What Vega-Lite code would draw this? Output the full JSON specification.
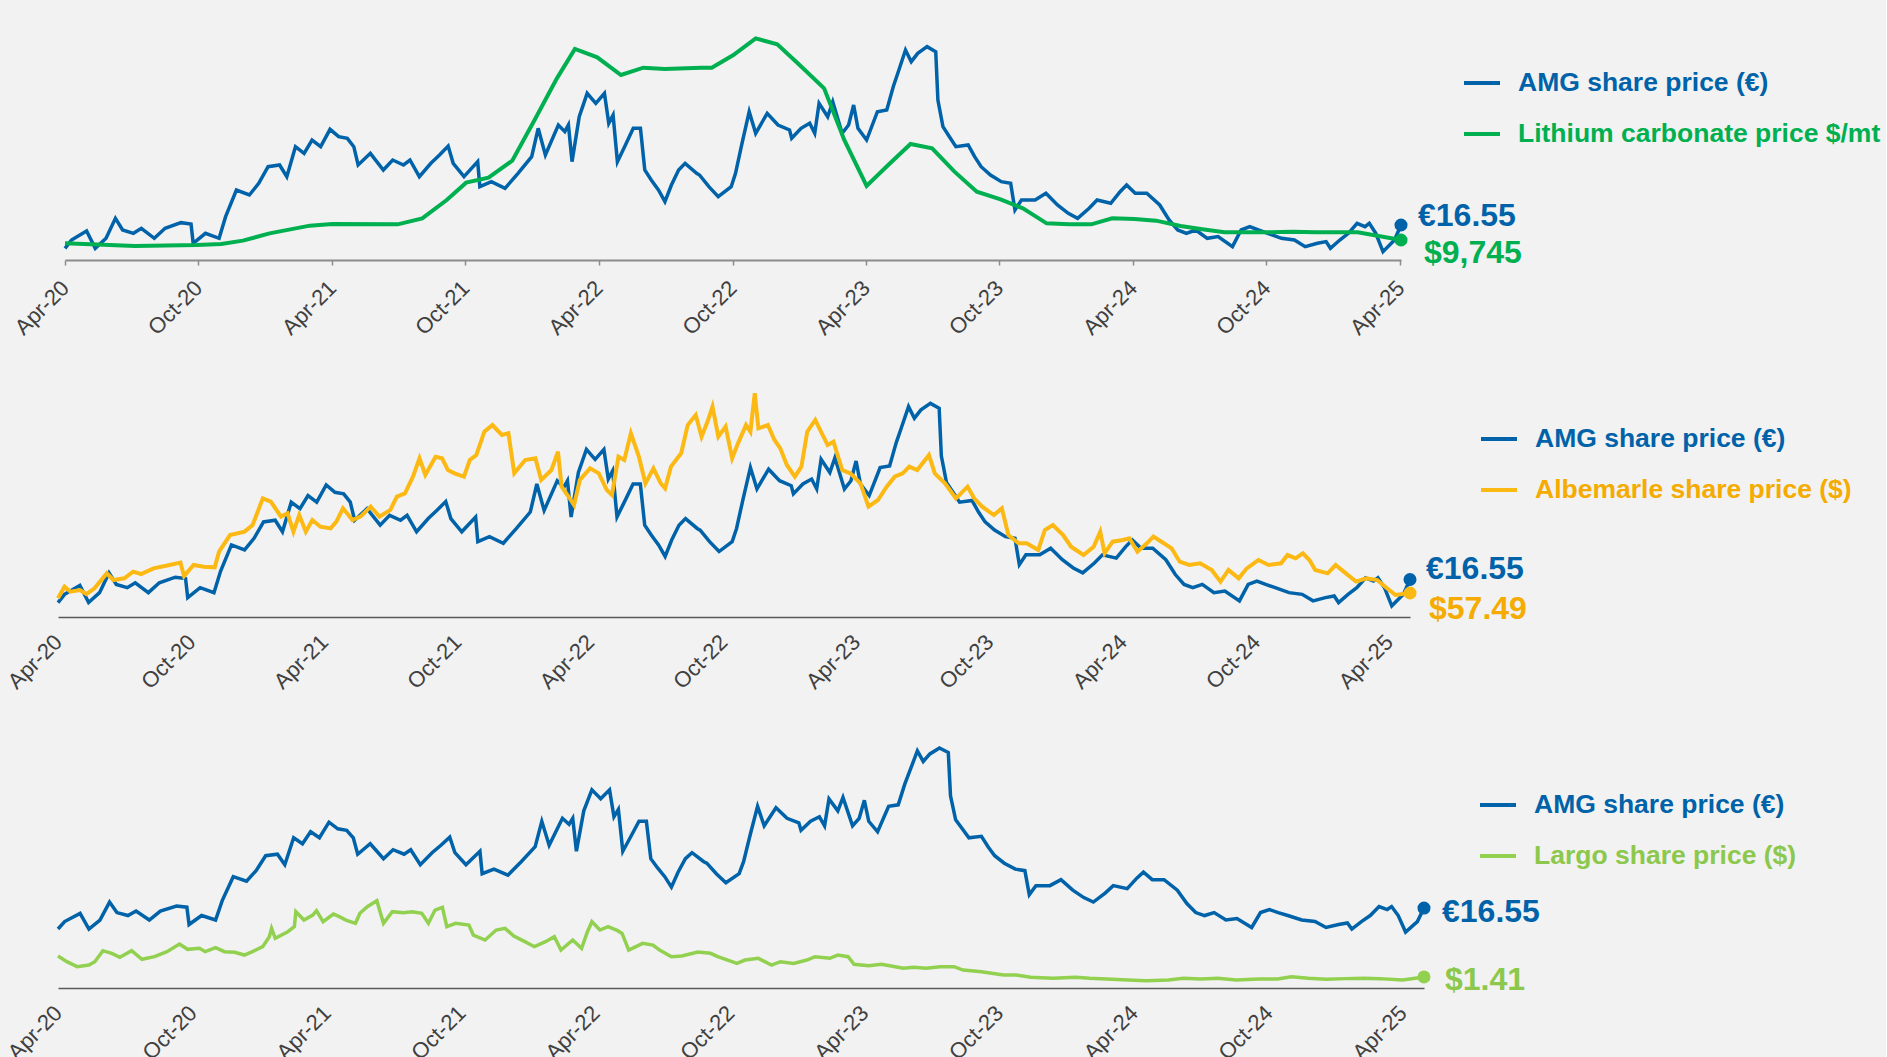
{
  "$schema": "https://vega.github.io/schema/vega-lite/v6.json",
  "background": "#f2f2f2",
  "padding": {"left": 3, "top": 30, "right": 5, "bottom": 0},
  "bounds": "flush",
  "spacing": 124,
  "config": {
    "view": {"stroke": null},
    "font": "Liberation Sans",
    "axis": {"labelFont": "Liberation Sans"},
    "legend": {"labelFont": "Liberation Sans"}
  },
  "resolve": {"scale": {"x": "independent", "color": "independent"}},
  "datasets": {
    "amg": [
      {"date":"2020-04-01","v":11.98},{"date":"2020-04-10","v":13.61},{"date":"2020-05-01","v":15.38},{"date":"2020-05-13","v":11.98},{"date":"2020-05-28","v":13.94},{"date":"2020-06-10","v":17.86},{"date":"2020-06-20","v":15.57},{"date":"2020-07-05","v":14.92},{"date":"2020-07-16","v":15.90},{"date":"2020-08-03","v":13.94},{"date":"2020-08-18","v":15.90},{"date":"2020-09-09","v":17.01},{"date":"2020-09-23","v":16.75},{"date":"2020-09-26","v":12.96},{"date":"2020-10-13","v":14.92},{"date":"2020-11-01","v":13.94},{"date":"2020-11-10","v":18.18},{"date":"2020-11-25","v":23.41},{"date":"2020-12-13","v":22.43},{"date":"2020-12-26","v":24.72},{"date":"2021-01-08","v":27.98},{"date":"2021-01-24","v":28.31},{"date":"2021-02-03","v":26.02},{"date":"2021-02-15","v":31.90},{"date":"2021-02-27","v":30.60},{"date":"2021-03-10","v":33.21},{"date":"2021-03-22","v":31.90},{"date":"2021-04-04","v":35.30},{"date":"2021-04-16","v":33.86},{"date":"2021-04-28","v":33.54},{"date":"2021-05-07","v":31.90},{"date":"2021-05-13","v":28.31},{"date":"2021-05-30","v":30.60},{"date":"2021-06-17","v":27.33},{"date":"2021-06-30","v":29.29},{"date":"2021-07-15","v":28.31},{"date":"2021-07-24","v":29.29},{"date":"2021-08-06","v":26.02},{"date":"2021-08-22","v":28.64},{"date":"2021-09-03","v":30.27},{"date":"2021-09-15","v":32.03},{"date":"2021-09-22","v":28.64},{"date":"2021-10-07","v":26.02},{"date":"2021-10-26","v":28.96},{"date":"2021-10-29","v":24.06},{"date":"2021-11-14","v":25.05},{"date":"2021-12-03","v":23.74},{"date":"2021-12-21","v":26.68},{"date":"2022-01-09","v":29.94},{"date":"2022-01-18","v":35.50},{"date":"2022-01-28","v":30.27},{"date":"2022-02-15","v":36.15},{"date":"2022-02-24","v":34.84},{"date":"2022-03-01","v":36.15},{"date":"2022-03-06","v":28.96},{"date":"2022-03-16","v":37.78},{"date":"2022-03-27","v":42.36},{"date":"2022-04-08","v":40.40},{"date":"2022-04-20","v":42.36},{"date":"2022-04-26","v":36.48},{"date":"2022-05-02","v":38.11},{"date":"2022-05-08","v":28.96},{"date":"2022-05-18","v":31.90},{"date":"2022-05-30","v":35.50},{"date":"2022-06-09","v":35.50},{"date":"2022-06-15","v":27.33},{"date":"2022-06-24","v":25.37},{"date":"2022-07-04","v":23.41},{"date":"2022-07-13","v":21.13},{"date":"2022-07-22","v":24.39},{"date":"2022-08-01","v":27.33},{"date":"2022-08-10","v":28.64},{"date":"2022-08-26","v":26.68},{"date":"2022-08-30","v":26.35},{"date":"2022-09-12","v":24.06},{"date":"2022-09-25","v":22.10},{"date":"2022-10-13","v":24.06},{"date":"2022-10-19","v":26.68},{"date":"2022-10-28","v":32.56},{"date":"2022-11-07","v":38.76},{"date":"2022-11-16","v":34.52},{"date":"2022-12-02","v":38.44},{"date":"2022-12-17","v":36.15},{"date":"2023-01-02","v":35.17},{"date":"2023-01-05","v":33.54},{"date":"2023-01-18","v":35.50},{"date":"2023-01-30","v":36.48},{"date":"2023-02-06","v":34.52},{"date":"2023-02-12","v":40.40},{"date":"2023-02-24","v":37.78},{"date":"2023-03-03","v":40.72},{"date":"2023-03-16","v":34.52},{"date":"2023-03-25","v":36.15},{"date":"2023-04-01","v":40.07},{"date":"2023-04-07","v":35.50},{"date":"2023-04-19","v":33.21},{"date":"2023-05-04","v":38.76},{"date":"2023-05-17","v":39.09},{"date":"2023-05-26","v":43.66},{"date":"2023-06-02","v":46.60},{"date":"2023-06-12","v":50.85},{"date":"2023-06-20","v":48.56},{"date":"2023-06-29","v":50.20},{"date":"2023-07-12","v":51.50},{"date":"2023-07-24","v":50.52},{"date":"2023-07-27","v":41.05},{"date":"2023-08-03","v":35.82},{"date":"2023-08-12","v":33.86},{"date":"2023-08-21","v":31.90},{"date":"2023-09-07","v":32.23},{"date":"2023-09-16","v":29.94},{"date":"2023-09-25","v":27.98},{"date":"2023-10-08","v":26.35},{"date":"2023-10-23","v":25.05},{"date":"2023-11-05","v":24.72},{"date":"2023-11-11","v":19.49},{"date":"2023-11-20","v":21.45},{"date":"2023-12-09","v":21.45},{"date":"2023-12-24","v":22.76},{"date":"2024-01-09","v":20.47},{"date":"2024-01-24","v":18.84},{"date":"2024-02-06","v":17.86},{"date":"2024-02-22","v":19.82},{"date":"2024-03-04","v":21.45},{"date":"2024-03-23","v":20.80},{"date":"2024-04-05","v":23.08},{"date":"2024-04-14","v":24.39},{"date":"2024-04-26","v":22.76},{"date":"2024-05-12","v":22.76},{"date":"2024-05-30","v":20.47},{"date":"2024-06-12","v":17.53},{"date":"2024-06-24","v":15.57},{"date":"2024-07-06","v":14.92},{"date":"2024-07-19","v":15.57},{"date":"2024-08-04","v":13.94},{"date":"2024-08-19","v":14.27},{"date":"2024-09-08","v":12.31},{"date":"2024-09-20","v":15.57},{"date":"2024-10-02","v":16.23},{"date":"2024-10-14","v":15.57},{"date":"2024-10-27","v":14.92},{"date":"2024-11-15","v":13.94},{"date":"2024-12-03","v":13.61},{"date":"2024-12-18","v":12.31},{"date":"2025-01-04","v":12.96},{"date":"2025-01-16","v":13.29},{"date":"2025-01-22","v":11.98},{"date":"2025-02-04","v":13.61},{"date":"2025-02-16","v":14.92},{"date":"2025-02-28","v":16.88},{"date":"2025-03-11","v":16.23},{"date":"2025-03-17","v":16.88},{"date":"2025-03-26","v":14.92},{"date":"2025-04-05","v":11.33},{"date":"2025-04-21","v":13.61},{"date":"2025-04-30","v":16.55}
    ],
    "li": [
      {"date":"2020-04-01","v":8554},{"date":"2020-07-07","v":7599},{"date":"2020-10-01","v":7957},{"date":"2020-11-04","v":8315},{"date":"2020-12-04","v":9508},{"date":"2021-01-10","v":12134},{"date":"2021-03-07","v":14879},{"date":"2021-04-07","v":15476},{"date":"2021-07-07","v":15356},{"date":"2021-08-10","v":17503},{"date":"2021-09-13","v":24067},{"date":"2021-10-10","v":30272},{"date":"2021-11-10","v":32062},{"date":"2021-12-13","v":38148},{"date":"2022-01-13","v":52706},{"date":"2022-02-13","v":67623},{"date":"2022-03-10","v":78123},{"date":"2022-04-10","v":75140},{"date":"2022-05-13","v":68815},{"date":"2022-06-13","v":71440},{"date":"2022-07-13","v":70963},{"date":"2022-09-01","v":71440},{"date":"2022-09-16","v":71440},{"date":"2022-10-16","v":75975},{"date":"2022-11-16","v":81940},{"date":"2022-12-16","v":79794},{"date":"2023-01-16","v":72396},{"date":"2023-02-19","v":64042},{"date":"2023-03-19","v":45546},{"date":"2023-04-19","v":29078},{"date":"2023-05-19","v":36596},{"date":"2023-06-19","v":44113},{"date":"2023-07-19","v":42562},{"date":"2023-08-19","v":34209},{"date":"2023-09-19","v":27049},{"date":"2023-10-22","v":24304},{"date":"2023-11-22","v":21083},{"date":"2023-12-25","v":15714},{"date":"2024-01-25","v":15356},{"date":"2024-02-25","v":15356},{"date":"2024-03-25","v":17503},{"date":"2024-04-25","v":17264},{"date":"2024-05-25","v":16668},{"date":"2024-06-28","v":14758},{"date":"2024-07-28","v":13565},{"date":"2024-08-28","v":12491},{"date":"2024-10-28","v":12491},{"date":"2024-12-01","v":12730},{"date":"2025-01-01","v":12491},{"date":"2025-03-01","v":12491},{"date":"2025-04-30","v":9745}
    ],
    "alb": [
      {"date":"2020-04-01","v":50.2},{"date":"2020-04-10","v":66.1},{"date":"2020-04-18","v":59.3},{"date":"2020-05-01","v":61.6},{"date":"2020-05-10","v":56.1},{"date":"2020-05-21","v":63.9},{"date":"2020-06-07","v":84.3},{"date":"2020-06-16","v":75.2},{"date":"2020-07-01","v":77.5},{"date":"2020-07-13","v":86.6},{"date":"2020-07-24","v":83.4},{"date":"2020-08-10","v":91.1},{"date":"2020-09-01","v":95.7},{"date":"2020-09-16","v":98.9},{"date":"2020-09-21","v":80.7},{"date":"2020-10-04","v":95.7},{"date":"2020-10-18","v":93.4},{"date":"2020-11-02","v":92.5},{"date":"2020-11-08","v":113.9},{"date":"2020-11-23","v":136.6},{"date":"2020-12-13","v":141.2},{"date":"2020-12-24","v":150.3},{"date":"2021-01-07","v":186.7},{"date":"2021-01-18","v":182.1},{"date":"2021-02-01","v":161.7},{"date":"2021-02-10","v":166.2},{"date":"2021-02-18","v":141.2},{"date":"2021-02-26","v":163.9},{"date":"2021-03-07","v":141.2},{"date":"2021-03-16","v":157.1},{"date":"2021-03-27","v":148.0},{"date":"2021-04-10","v":145.7},{"date":"2021-04-18","v":154.8},{"date":"2021-04-27","v":173.0},{"date":"2021-05-10","v":157.1},{"date":"2021-05-21","v":161.7},{"date":"2021-06-04","v":175.3},{"date":"2021-06-16","v":161.7},{"date":"2021-07-01","v":170.8},{"date":"2021-07-10","v":189.0},{"date":"2021-07-21","v":193.5},{"date":"2021-08-01","v":216.2},{"date":"2021-08-10","v":241.3},{"date":"2021-08-18","v":218.5},{"date":"2021-09-01","v":243.5},{"date":"2021-09-10","v":241.3},{"date":"2021-09-18","v":225.3},{"date":"2021-09-27","v":220.8},{"date":"2021-10-10","v":216.2},{"date":"2021-10-18","v":239.0},{"date":"2021-10-27","v":245.8},{"date":"2021-11-07","v":277.6},{"date":"2021-11-18","v":286.7},{"date":"2021-12-01","v":273.1},{"date":"2021-12-10","v":275.4},{"date":"2021-12-18","v":220.8},{"date":"2022-01-02","v":239.0},{"date":"2022-01-16","v":241.3},{"date":"2022-01-24","v":211.7},{"date":"2022-02-07","v":225.3},{"date":"2022-02-16","v":250.4},{"date":"2022-02-21","v":202.6},{"date":"2022-03-01","v":191.2},{"date":"2022-03-10","v":177.6},{"date":"2022-03-18","v":211.7},{"date":"2022-04-01","v":227.6},{"date":"2022-04-13","v":220.8},{"date":"2022-04-24","v":198.0},{"date":"2022-05-01","v":191.2},{"date":"2022-05-10","v":243.5},{"date":"2022-05-18","v":239.0},{"date":"2022-05-27","v":275.4},{"date":"2022-06-07","v":243.5},{"date":"2022-06-16","v":207.1},{"date":"2022-06-27","v":227.6},{"date":"2022-07-07","v":207.1},{"date":"2022-07-13","v":200.3},{"date":"2022-07-21","v":229.9},{"date":"2022-08-04","v":248.1},{"date":"2022-08-13","v":286.7},{"date":"2022-08-24","v":300.4},{"date":"2022-09-01","v":270.8},{"date":"2022-09-10","v":293.6},{"date":"2022-09-16","v":311.8},{"date":"2022-09-24","v":270.8},{"date":"2022-10-04","v":284.5},{"date":"2022-10-13","v":241.3},{"date":"2022-10-21","v":261.7},{"date":"2022-11-01","v":286.7},{"date":"2022-11-07","v":277.6},{"date":"2022-11-13","v":330.0},{"date":"2022-11-18","v":282.2},{"date":"2022-12-01","v":286.7},{"date":"2022-12-10","v":266.3},{"date":"2022-12-18","v":254.9},{"date":"2022-12-27","v":232.2},{"date":"2023-01-07","v":216.2},{"date":"2023-01-16","v":229.9},{"date":"2023-01-24","v":277.6},{"date":"2023-02-04","v":293.6},{"date":"2023-02-13","v":275.4},{"date":"2023-02-21","v":259.4},{"date":"2023-03-01","v":264.0},{"date":"2023-03-13","v":225.3},{"date":"2023-03-24","v":220.8},{"date":"2023-04-07","v":207.1},{"date":"2023-04-18","v":175.3},{"date":"2023-05-01","v":184.4},{"date":"2023-05-13","v":202.6},{"date":"2023-05-24","v":216.2},{"date":"2023-06-04","v":220.8},{"date":"2023-06-13","v":229.9},{"date":"2023-06-24","v":225.3},{"date":"2023-07-10","v":245.8},{"date":"2023-07-18","v":220.8},{"date":"2023-08-01","v":207.1},{"date":"2023-08-16","v":186.7},{"date":"2023-09-01","v":202.6},{"date":"2023-09-10","v":186.7},{"date":"2023-09-21","v":175.3},{"date":"2023-10-07","v":163.9},{"date":"2023-10-18","v":173.0},{"date":"2023-10-27","v":136.6},{"date":"2023-11-10","v":125.3},{"date":"2023-11-21","v":125.3},{"date":"2023-12-07","v":116.2},{"date":"2023-12-16","v":143.5},{"date":"2023-12-27","v":150.3},{"date":"2024-01-10","v":136.6},{"date":"2024-01-21","v":120.7},{"date":"2024-02-07","v":109.3},{"date":"2024-02-21","v":120.7},{"date":"2024-03-01","v":141.2},{"date":"2024-03-07","v":111.6},{"date":"2024-03-18","v":127.5},{"date":"2024-04-01","v":129.8},{"date":"2024-04-10","v":132.1},{"date":"2024-04-21","v":113.9},{"date":"2024-05-04","v":125.3},{"date":"2024-05-13","v":134.4},{"date":"2024-05-24","v":127.5},{"date":"2024-06-07","v":118.4},{"date":"2024-06-18","v":100.2},{"date":"2024-07-01","v":95.7},{"date":"2024-07-16","v":98.0},{"date":"2024-08-01","v":88.9},{"date":"2024-08-13","v":73.0},{"date":"2024-08-24","v":88.9},{"date":"2024-09-07","v":77.5},{"date":"2024-09-18","v":91.1},{"date":"2024-10-04","v":102.5},{"date":"2024-10-18","v":95.7},{"date":"2024-11-04","v":98.0},{"date":"2024-11-13","v":109.3},{"date":"2024-11-24","v":104.8},{"date":"2024-12-04","v":111.6},{"date":"2024-12-13","v":102.5},{"date":"2024-12-21","v":88.9},{"date":"2025-01-07","v":84.3},{"date":"2025-01-18","v":95.7},{"date":"2025-02-01","v":84.3},{"date":"2025-02-15","v":73.0},{"date":"2025-03-01","v":77.5},{"date":"2025-03-16","v":75.2},{"date":"2025-03-27","v":66.1},{"date":"2025-04-10","v":54.8},{"date":"2025-04-30","v":57.49}
    ],
    "largo": [
      {"date":"2020-04-01","v":4.10},{"date":"2020-04-13","v":3.37},{"date":"2020-04-27","v":2.73},{"date":"2020-05-13","v":2.94},{"date":"2020-05-21","v":3.37},{"date":"2020-06-01","v":4.78},{"date":"2020-06-13","v":4.44},{"date":"2020-06-24","v":3.93},{"date":"2020-07-10","v":4.78},{"date":"2020-07-24","v":3.67},{"date":"2020-08-10","v":4.01},{"date":"2020-08-27","v":4.65},{"date":"2020-09-13","v":5.63},{"date":"2020-09-24","v":4.95},{"date":"2020-10-10","v":5.08},{"date":"2020-10-18","v":4.65},{"date":"2020-11-01","v":5.16},{"date":"2020-11-13","v":4.65},{"date":"2020-11-27","v":4.57},{"date":"2020-12-10","v":4.22},{"date":"2020-12-21","v":4.65},{"date":"2021-01-04","v":5.29},{"date":"2021-01-13","v":6.57},{"date":"2021-01-16","v":7.64},{"date":"2021-01-21","v":6.36},{"date":"2021-02-07","v":7.21},{"date":"2021-02-16","v":7.85},{"date":"2021-02-18","v":9.77},{"date":"2021-03-01","v":8.70},{"date":"2021-03-13","v":9.34},{"date":"2021-03-18","v":9.90},{"date":"2021-03-27","v":8.49},{"date":"2021-04-10","v":9.47},{"date":"2021-04-18","v":9.13},{"date":"2021-04-27","v":8.70},{"date":"2021-05-10","v":8.28},{"date":"2021-05-16","v":9.56},{"date":"2021-05-26","v":10.41},{"date":"2021-06-08","v":11.18},{"date":"2021-06-17","v":8.28},{"date":"2021-06-29","v":9.77},{"date":"2021-07-14","v":9.64},{"date":"2021-07-26","v":9.77},{"date":"2021-08-08","v":9.56},{"date":"2021-08-17","v":8.28},{"date":"2021-08-26","v":9.98},{"date":"2021-09-05","v":10.33},{"date":"2021-09-11","v":7.85},{"date":"2021-09-23","v":8.28},{"date":"2021-10-11","v":8.06},{"date":"2021-10-17","v":6.78},{"date":"2021-11-02","v":6.14},{"date":"2021-11-17","v":7.42},{"date":"2021-11-29","v":7.64},{"date":"2021-12-11","v":6.66},{"date":"2021-12-26","v":5.93},{"date":"2022-01-08","v":5.29},{"date":"2022-01-23","v":5.93},{"date":"2022-02-04","v":6.57},{"date":"2022-02-13","v":4.86},{"date":"2022-03-01","v":6.14},{"date":"2022-03-13","v":5.08},{"date":"2022-03-21","v":7.21},{"date":"2022-03-27","v":8.49},{"date":"2022-04-07","v":7.42},{"date":"2022-04-18","v":7.85},{"date":"2022-05-01","v":7.34},{"date":"2022-05-07","v":6.99},{"date":"2022-05-16","v":4.86},{"date":"2022-06-04","v":5.72},{"date":"2022-06-18","v":5.50},{"date":"2022-06-27","v":4.86},{"date":"2022-07-13","v":4.01},{"date":"2022-07-27","v":4.10},{"date":"2022-08-18","v":4.60},{"date":"2022-09-04","v":4.44},{"date":"2022-09-14","v":4.01},{"date":"2022-10-10","v":3.15},{"date":"2022-10-21","v":3.58},{"date":"2022-11-08","v":3.80},{"date":"2022-11-26","v":2.94},{"date":"2022-12-08","v":3.37},{"date":"2022-12-26","v":3.15},{"date":"2023-01-13","v":3.58},{"date":"2023-01-24","v":4.01},{"date":"2023-02-13","v":3.80},{"date":"2023-02-24","v":4.22},{"date":"2023-03-10","v":4.01},{"date":"2023-03-18","v":3.03},{"date":"2023-04-07","v":2.86},{"date":"2023-04-24","v":3.03},{"date":"2023-05-13","v":2.73},{"date":"2023-05-24","v":2.52},{"date":"2023-06-07","v":2.64},{"date":"2023-06-24","v":2.52},{"date":"2023-07-13","v":2.73},{"date":"2023-08-01","v":2.73},{"date":"2023-08-13","v":2.30},{"date":"2023-09-07","v":2.09},{"date":"2023-10-07","v":1.66},{"date":"2023-10-24","v":1.66},{"date":"2023-11-13","v":1.37},{"date":"2023-12-13","v":1.24},{"date":"2024-01-13","v":1.37},{"date":"2024-02-01","v":1.24},{"date":"2024-02-24","v":1.15},{"date":"2024-03-24","v":1.02},{"date":"2024-04-18","v":0.94},{"date":"2024-05-18","v":1.02},{"date":"2024-06-07","v":1.24},{"date":"2024-07-01","v":1.15},{"date":"2024-07-24","v":1.24},{"date":"2024-08-18","v":1.02},{"date":"2024-09-18","v":1.15},{"date":"2024-10-13","v":1.15},{"date":"2024-11-01","v":1.45},{"date":"2024-11-24","v":1.24},{"date":"2024-12-18","v":1.11},{"date":"2025-01-13","v":1.20},{"date":"2025-02-07","v":1.24},{"date":"2025-03-01","v":1.20},{"date":"2025-04-01","v":1.02},{"date":"2025-04-30","v":1.41}
    ]
  },
  "vconcat": [
    {
      "width": 1366,
      "height": 230,
      "encoding": {
        "x": {
          "field": "date", "type": "temporal",
          "scale": {"type": "utc", "domain": [{"year":2020,"month":4,"date":1,"utc":true},{"year":2025,"month":4,"date":30,"utc":true}], "range": [7, 1343], "nice": false},
          "axis": {
            "title": null, "grid": false, "format": "%b-%y", "labelAngle": -45, "labelAlign": "right", "labelBaseline": "top",
            "labelFontSize": 22, "labelColor": "#404040", "labelPadding": 12, "labelOffset": -7, "labelOverlap": false, "labelFlush": false,
            "ticks": true, "tickSize": 5, "tickWidth": 1.5, "tickColor": "#8c8c8c", "domainColor": "#8c8c8c", "domainWidth": 2,
            "values": [
              {"year":2020,"month":4,"date":1,"utc":true},{"year":2020,"month":10,"date":3,"utc":true},{"year":2021,"month":4,"date":7,"utc":true},{"year":2021,"month":10,"date":9,"utc":true},{"year":2022,"month":4,"date":12,"utc":true},{"year":2022,"month":10,"date":15,"utc":true},{"year":2023,"month":4,"date":18,"utc":true},{"year":2023,"month":10,"date":20,"utc":true},{"year":2024,"month":4,"date":23,"utc":true},{"year":2024,"month":10,"date":25,"utc":true},{"year":2025,"month":4,"date":29,"utc":true}
            ]
          }
        }
      },
      "layer": [
        {
          "data": {"name": "amg"},
          "encoding": {"y": {"field": "v", "type": "quantitative", "scale": {"domain": [9.69, 54.77], "nice": false, "zero": false}, "axis": null}},
          "layer": [
            {
              "mark": {"type": "line", "strokeWidth": 3.5},
              "encoding": {
                "color": {
                  "datum": "AMG share price (€)", "type": "nominal",
                  "scale": {"domain": ["AMG share price (€)", "Lithium carbonate price $/mt"], "range": ["#0062a8", "#00b050"]},
                  "legend": {
                    "orient": "none", "legendX": 1404, "legendY": 33, "direction": "vertical", "title": null, "padding": 0,
                    "symbolType": "stroke", "symbolSize": 1296, "symbolStrokeWidth": 4,
                    "labelFontSize": 26.5, "labelFontWeight": "bold", "labelOffset": 16, "rowPadding": 17, "labelLimit": 1000,
                    "labelColor": {"expr": "indexof(datum.label, 'AMG') === 0 ? '#0062a8' : '#00b050'"}
                  }
                }
              }
            },
            {
              "transform": [{"window": [{"op": "row_number", "as": "rn"}], "sort": [{"field": "date", "order": "descending"}]}, {"filter": "datum.rn === 1"}],
              "mark": {"type": "point", "filled": true, "size": 170, "opacity": 1, "color": "#0062a8"}
            },
            {
              "transform": [{"window": [{"op": "row_number", "as": "rn"}], "sort": [{"field": "date", "order": "descending"}]}, {"filter": "datum.rn === 1"}, {"calculate": "'€' + format(datum.v, '.2f')", "as": "label"}],
              "mark": {"type": "text", "align": "left", "baseline": "middle", "dx": 17, "dy": -9, "fontSize": 32, "fontWeight": "bold", "font": "Liberation Sans", "color": "#0062a8"},
              "encoding": {"text": {"field": "label", "type": "nominal"}}
            }
          ]
        },
        {
          "data": {"name": "li"},
          "encoding": {"y": {"field": "v", "type": "quantitative", "scale": {"domain": [2585, 84925], "nice": false, "zero": false}, "axis": null}},
          "layer": [
            {
              "mark": {"type": "line", "strokeWidth": 4},
              "encoding": {"color": {"datum": "Lithium carbonate price $/mt", "type": "nominal"}}
            },
            {
              "transform": [{"window": [{"op": "row_number", "as": "rn"}], "sort": [{"field": "date", "order": "descending"}]}, {"filter": "datum.rn === 1"}],
              "mark": {"type": "point", "filled": true, "size": 170, "opacity": 1, "color": "#00b050"}
            },
            {
              "transform": [{"window": [{"op": "row_number", "as": "rn"}], "sort": [{"field": "date", "order": "descending"}]}, {"filter": "datum.rn === 1"}, {"calculate": "'$' + format(datum.v, ',.0f')", "as": "label"}],
              "mark": {"type": "text", "align": "left", "baseline": "middle", "dx": 23, "dy": 13, "fontSize": 32, "fontWeight": "bold", "font": "Liberation Sans", "color": "#00b050"},
              "encoding": {"text": {"field": "label", "type": "nominal"}}
            }
          ]
        }
      ],
      "resolve": {"scale": {"y": "independent"}}
    },
    {
      "width": 1366,
      "height": 233,
      "encoding": {
        "x": {
          "field": "date", "type": "temporal",
          "scale": {"type": "utc", "domain": [{"year":2020,"month":4,"date":1,"utc":true},{"year":2025,"month":4,"date":30,"utc":true}], "range": [0, 1352], "nice": false},
          "axis": {
            "title": null, "grid": false, "format": "%b-%y", "labelAngle": -45, "labelAlign": "right", "labelBaseline": "top",
            "labelFontSize": 22, "labelColor": "#404040", "labelPadding": 14, "labelOffset": -7, "labelOverlap": false, "labelFlush": false,
            "ticks": false, "tickSize": 0, "domainColor": "#595959", "domainWidth": 1.5,
            "values": [
              {"year":2020,"month":4,"date":1,"utc":true},{"year":2020,"month":10,"date":1,"utc":true},{"year":2021,"month":4,"date":1,"utc":true},{"year":2021,"month":10,"date":1,"utc":true},{"year":2022,"month":4,"date":1,"utc":true},{"year":2022,"month":10,"date":1,"utc":true},{"year":2023,"month":4,"date":1,"utc":true},{"year":2023,"month":10,"date":1,"utc":true},{"year":2024,"month":4,"date":1,"utc":true},{"year":2024,"month":10,"date":1,"utc":true},{"year":2025,"month":4,"date":1,"utc":true}
            ]
          }
        }
      },
      "layer": [
        {
          "data": {"name": "amg"},
          "encoding": {"y": {"field": "v", "type": "quantitative", "scale": {"domain": [9.11, 55.34], "nice": false, "zero": false}, "axis": null}},
          "layer": [
            {
              "mark": {"type": "line", "strokeWidth": 3.5},
              "encoding": {
                "color": {
                  "datum": "AMG share price (€)", "type": "nominal",
                  "scale": {"domain": ["AMG share price (€)", "Albemarle share price ($)"], "range": ["#0062a8", "#fdb913"]},
                  "legend": {
                    "orient": "none", "legendX": 1421, "legendY": 35, "direction": "vertical", "title": null, "padding": 0,
                    "symbolType": "stroke", "symbolSize": 1296, "symbolStrokeWidth": 4,
                    "labelFontSize": 26.5, "labelFontWeight": "bold", "labelOffset": 16, "rowPadding": 17, "labelLimit": 1000,
                    "labelColor": {"expr": "indexof(datum.label, 'AMG') === 0 ? '#0062a8' : '#f5ab00'"}
                  }
                }
              }
            },
            {
              "transform": [{"window": [{"op": "row_number", "as": "rn"}], "sort": [{"field": "date", "order": "descending"}]}, {"filter": "datum.rn === 1"}],
              "mark": {"type": "point", "filled": true, "size": 170, "opacity": 1, "color": "#0062a8"}
            },
            {
              "transform": [{"window": [{"op": "row_number", "as": "rn"}], "sort": [{"field": "date", "order": "descending"}]}, {"filter": "datum.rn === 1"}, {"calculate": "'€' + format(datum.v, '.2f')", "as": "label"}],
              "mark": {"type": "text", "align": "left", "baseline": "middle", "dx": 16, "dy": -11, "fontSize": 32, "fontWeight": "bold", "font": "Liberation Sans", "color": "#0062a8"},
              "encoding": {"text": {"field": "label", "type": "nominal"}}
            }
          ]
        },
        {
          "data": {"name": "alb"},
          "encoding": {"y": {"field": "v", "type": "quantitative", "scale": {"domain": [24.74, 342.69], "nice": false, "zero": false}, "axis": null}},
          "layer": [
            {
              "mark": {"type": "line", "strokeWidth": 4},
              "encoding": {"color": {"datum": "Albemarle share price ($)", "type": "nominal"}}
            },
            {
              "transform": [{"window": [{"op": "row_number", "as": "rn"}], "sort": [{"field": "date", "order": "descending"}]}, {"filter": "datum.rn === 1"}],
              "mark": {"type": "point", "filled": true, "size": 170, "opacity": 1, "color": "#fdb913"}
            },
            {
              "transform": [{"window": [{"op": "row_number", "as": "rn"}], "sort": [{"field": "date", "order": "descending"}]}, {"filter": "datum.rn === 1"}, {"calculate": "'$' + format(datum.v, '.2f')", "as": "label"}],
              "mark": {"type": "text", "align": "left", "baseline": "middle", "dx": 19, "dy": 16, "fontSize": 32, "fontWeight": "bold", "font": "Liberation Sans", "color": "#f5ab00"},
              "encoding": {"text": {"field": "label", "type": "nominal"}}
            }
          ]
        }
      ],
      "resolve": {"scale": {"y": "independent"}}
    },
    {
      "width": 1366,
      "height": 247,
      "encoding": {
        "x": {
          "field": "date", "type": "temporal",
          "scale": {"type": "utc", "domain": [{"year":2020,"month":4,"date":1,"utc":true},{"year":2025,"month":4,"date":30,"utc":true}], "range": [0, 1366], "nice": false},
          "axis": {
            "title": null, "grid": false, "format": "%b-%y", "labelAngle": -45, "labelAlign": "right", "labelBaseline": "top",
            "labelFontSize": 22, "labelColor": "#404040", "labelPadding": 14, "labelOffset": -7, "labelOverlap": false, "labelFlush": false,
            "ticks": false, "tickSize": 0, "domainColor": "#595959", "domainWidth": 1.5,
            "values": [
              {"year":2020,"month":4,"date":1,"utc":true},{"year":2020,"month":10,"date":1,"utc":true},{"year":2021,"month":4,"date":1,"utc":true},{"year":2021,"month":10,"date":1,"utc":true},{"year":2022,"month":4,"date":1,"utc":true},{"year":2022,"month":10,"date":1,"utc":true},{"year":2023,"month":4,"date":1,"utc":true},{"year":2023,"month":10,"date":1,"utc":true},{"year":2024,"month":4,"date":1,"utc":true},{"year":2024,"month":10,"date":1,"utc":true},{"year":2025,"month":4,"date":1,"utc":true}
            ]
          }
        }
      },
      "layer": [
        {
          "data": {"name": "amg"},
          "encoding": {"y": {"field": "v", "type": "quantitative", "scale": {"domain": [-0.9, 53.03], "nice": false, "zero": false}, "axis": null}},
          "layer": [
            {
              "mark": {"type": "line", "strokeWidth": 3.5},
              "encoding": {
                "color": {
                  "datum": "AMG share price (€)", "type": "nominal",
                  "scale": {"domain": ["AMG share price (€)", "Largo share price ($)"], "range": ["#0062a8", "#92d050"]},
                  "legend": {
                    "orient": "none", "legendX": 1420, "legendY": 44, "direction": "vertical", "title": null, "padding": 0,
                    "symbolType": "stroke", "symbolSize": 1296, "symbolStrokeWidth": 4,
                    "labelFontSize": 26.5, "labelFontWeight": "bold", "labelOffset": 16, "rowPadding": 17, "labelLimit": 1000,
                    "labelColor": {"expr": "indexof(datum.label, 'AMG') === 0 ? '#0062a8' : '#8cc84b'"}
                  }
                }
              }
            },
            {
              "transform": [{"window": [{"op": "row_number", "as": "rn"}], "sort": [{"field": "date", "order": "descending"}]}, {"filter": "datum.rn === 1"}],
              "mark": {"type": "point", "filled": true, "size": 170, "opacity": 1, "color": "#0062a8"}
            },
            {
              "transform": [{"window": [{"op": "row_number", "as": "rn"}], "sort": [{"field": "date", "order": "descending"}]}, {"filter": "datum.rn === 1"}, {"calculate": "'€' + format(datum.v, '.2f')", "as": "label"}],
              "mark": {"type": "text", "align": "left", "baseline": "middle", "dx": 18, "dy": 4, "fontSize": 32, "fontWeight": "bold", "font": "Liberation Sans", "color": "#0062a8"},
              "encoding": {"text": {"field": "label", "type": "nominal"}}
            }
          ]
        },
        {
          "data": {"name": "largo"},
          "encoding": {"y": {"field": "v", "type": "quantitative", "scale": {"domain": [0, 31.62], "nice": false, "zero": false}, "axis": null}},
          "layer": [
            {
              "mark": {"type": "line", "strokeWidth": 3.5},
              "encoding": {"color": {"datum": "Largo share price ($)", "type": "nominal"}}
            },
            {
              "transform": [{"window": [{"op": "row_number", "as": "rn"}], "sort": [{"field": "date", "order": "descending"}]}, {"filter": "datum.rn === 1"}],
              "mark": {"type": "point", "filled": true, "size": 170, "opacity": 1, "color": "#92d050"}
            },
            {
              "transform": [{"window": [{"op": "row_number", "as": "rn"}], "sort": [{"field": "date", "order": "descending"}]}, {"filter": "datum.rn === 1"}, {"calculate": "'$' + format(datum.v, '.2f')", "as": "label"}],
              "mark": {"type": "text", "align": "left", "baseline": "middle", "dx": 21, "dy": 3, "fontSize": 32, "fontWeight": "bold", "font": "Liberation Sans", "color": "#8cc84b"},
              "encoding": {"text": {"field": "label", "type": "nominal"}}
            }
          ]
        }
      ],
      "resolve": {"scale": {"y": "independent"}}
    }
  ]
}
